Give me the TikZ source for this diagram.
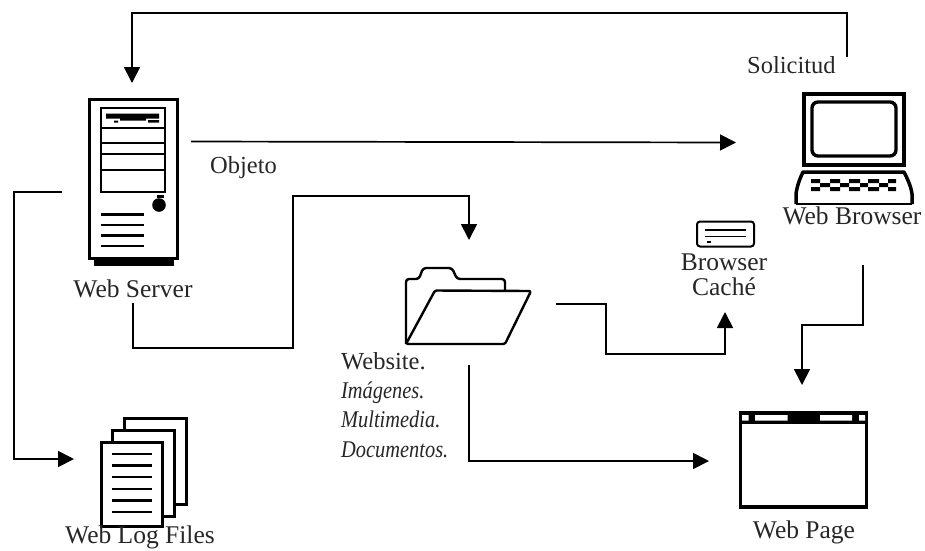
\documentclass[tikz,border=0pt]{standalone}
\usepackage{fontspec}
\setmainfont{Liberation Serif}
\newfontfamily\narrowserif[FakeStretch=0.85]{Liberation Serif}
\usetikzlibrary{arrows.meta}
\tikzset{
  px/.style={x=1pt,y=-1pt},
  conn/.style={line width=1.7pt,-{Triangle[length=16pt,width=16pt]}},
  lab/.style={inner sep=0pt,anchor=base,font=\fontsize{25.5}{27}\selectfont,text=black!85},
  labl/.style={inner sep=0pt,anchor=base west,font=\fontsize{24.5}{27}\selectfont,text=black!85},
  labi/.style={inner sep=0pt,anchor=base west,font=\narrowserif\fontsize{24}{25}\selectfont\itshape,text=black!85},
  icon/.style={line width=3pt,draw=black,fill=white,line join=miter},
}
\begin{document}
\begin{tikzpicture}[px]
\useasboundingbox (0,0) rectangle (925,550);
% connector ends
\coordinate (solS) at (847,57); \coordinate (solA) at (847,13); \coordinate (solB) at (132,13); \coordinate (solE) at (132,83);
\coordinate (objS) at (191,141.5); \coordinate (objE) at (736,142.5);
\coordinate (logS) at (62,192); \coordinate (logA) at (14,192); \coordinate (logB) at (14,459); \coordinate (logE) at (74,459);
\coordinate (webS) at (133,303); \coordinate (webA) at (133,348); \coordinate (webB) at (293,348); \coordinate (webC) at (293,196); \coordinate (webD) at (469,196); \coordinate (webE) at (469,240);
\coordinate (cacS) at (556,304); \coordinate (cacA) at (606,304); \coordinate (cacB) at (606,354); \coordinate (cacC) at (725,354); \coordinate (cacE) at (725,312);
\coordinate (pagS) at (469,365); \coordinate (pagA) at (469,461); \coordinate (pagE) at (709,461);
\coordinate (broS) at (863,265); \coordinate (broA) at (863,325); \coordinate (broB) at (802,325); \coordinate (broE) at (802,385);
\draw[conn] (solS) -- (solA) -- (solB) -- (solE);
\draw[conn] (objS) -- (objE);
\draw[conn] (logS) -- (logA) -- (logB) -- (logE);
\draw[conn] (webS) -- (webA) -- (webB) -- (webC) -- (webD) -- (webE);
\draw[conn] (cacS) -- (cacA) -- (cacB) -- (cacC) -- (cacE);
\draw[conn] (pagS) -- (pagA) -- (pagE);
\draw[conn] (broS) -- (broA) -- (broB) -- (broE);
% server
\fill (94,256) rectangle (174,265.5);
\draw[icon] (89,99) rectangle (177,258);
\draw[line width=2.4pt] (101,108) rectangle (165,192);
\draw[line width=2pt] (101,128) -- (165,128) (101,143) -- (165,143) (101,154) -- (165,154) (101,170) -- (165,170);
\fill (106,113.5) rectangle (159,118.5) (120,118) rectangle (146,120.5) (114,120.5) rectangle (118,122.5) (148,120) rectangle (159,122.5);
\fill (159,205) circle (6.8);
\fill (157,195) rectangle (164,197.5);
\draw[line width=2.4pt] (101,214.5) -- (144,214.5) (101,225) -- (144,225) (101,235.5) -- (144,235.5) (101,246) -- (144,246);
% laptop
\draw[line width=4pt] (804,94) rectangle (904,165);
\draw[line width=3.4pt,rounded corners=6pt] (812,102) rectangle (896,156);
\draw[line width=3.5pt,line join=round] (796,204) -- (796,194) .. controls (797,186) and (800,178) .. (803,172) -- (904,172) .. controls (907,178) and (911,186) .. (912,194) -- (912,204);
\draw[line width=1.5pt] (796,204) -- (912,204);
\fill (811,179) rectangle (820,183) (830,179) rectangle (840,183) (849,179) rectangle (860,183) (868,179) rectangle (879,183) (888,179) rectangle (896,183);
\fill (820,183) rectangle (830,187) (840,183) rectangle (849,187) (860,183) rectangle (868,187) (879,183) rectangle (888,187);
\fill (811,187) rectangle (820,191) (830,187) rectangle (840,191) (849,187) rectangle (860,191) (868,187) rectangle (879,191) (888,187) rectangle (896,191);
% folder
\draw[line width=2.4pt,line join=round,rounded corners=3pt] (406,344) -- (406,279) -- (419,279) -- (423,268) -- (452,268) -- (457,279) -- (505,279) -- (505,291);
\draw[line width=2.4pt,line join=round,rounded corners=1.5pt] (406,344) -- (435,290.5) -- (531,291) -- (505,344) -- cycle;
% log files
\draw[icon] (124.5,418.5) rectangle (186,504);
\draw[icon] (112.5,430) rectangle (174,516);
\draw[icon] (101.5,442.5) rectangle (162,526);
\draw[line width=2.4pt] (112,454) -- (152,454) (112,465.5) -- (152,465.5) (112,477) -- (152,477) (112,489) -- (152,489) (112,500.5) -- (152,500.5) (112,512) -- (152,512);
% web page
\fill (739,411) rectangle (868,423.5);
\draw[line width=3.5pt] (740.5,413) rectangle (866.5,507);
\fill[white] (742,415) rectangle (748.5,420.5) (755,415) rectangle (787.5,420.5) (820,415) rectangle (852,420.5) (859,415) rectangle (865,420.5);
% cache
\draw[line width=2pt,rounded corners=3pt] (697,221.5) rectangle (754,246.5);
\draw[line width=1.8pt] (705,230) -- (746,230) (705,236.5) -- (746,236.5);
\fill (707,240.5) rectangle (711,242.5);
% labels
\node[labl] (tSol) at (747,73) {Solicitud};
\node[labl] (tObj) at (210,173) {Objeto};
\node[lab] (tSrv) at (133,297) {Web Server};
\node[lab] (tBro) at (852,224) {Web Browser};
\node[lab] (tBr2) at (724,270) {Browser};
\node[lab] (tCac) at (724,295) {Caché};
\node[labl] (tWeb) at (341,369) {Website.};
\node[labi] (tImg) at (341,398) {Imágenes.};
\node[labi] (tMul) at (341,427) {Multimedia.};
\node[labi] (tDoc) at (341,457) {Documentos.};
\node[lab] (tLog) at (140,543) {Web Log Files};
\node[lab] (tPag) at (804,538) {Web Page};
\end{tikzpicture}
\end{document}
